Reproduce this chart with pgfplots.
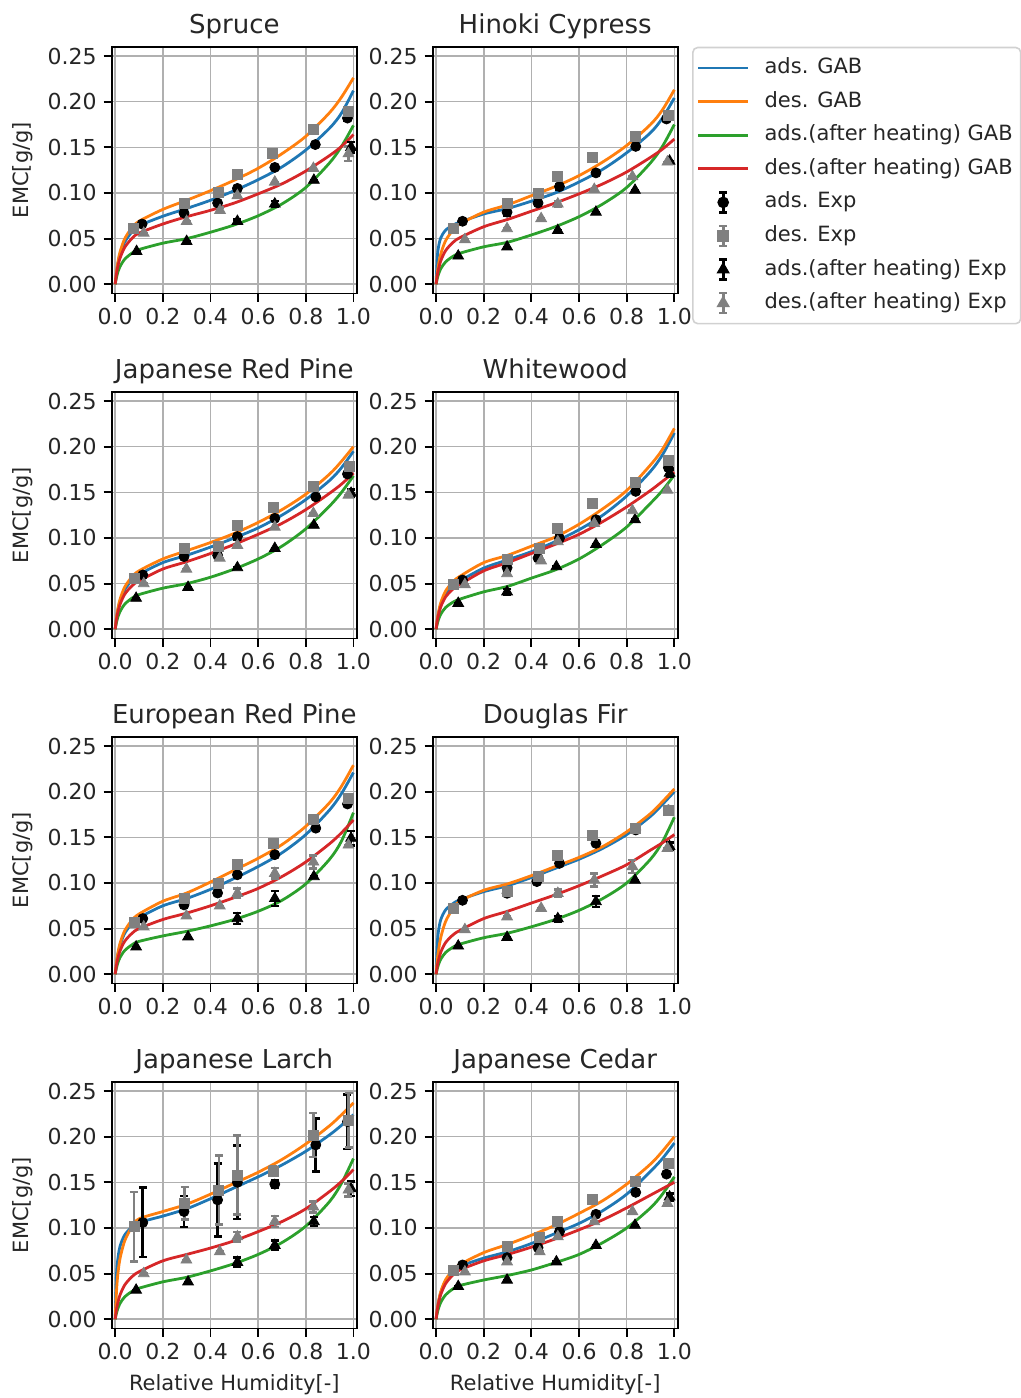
\documentclass[border=0pt]{standalone}
\usepackage{fontspec}
\setmainfont{DejaVu Sans}
\usepackage{pgfplots}
\usepackage{pgfplotstable}
\pgfplotsset{compat=1.18}
\definecolor{cblue}{RGB}{31,119,180}
\definecolor{corange}{RGB}{255,127,14}
\definecolor{cgreen}{RGB}{44,160,44}
\definecolor{cred}{RGB}{214,39,40}
\definecolor{mgray}{RGB}{128,128,128}
\definecolor{gridgray}{RGB}{176,176,176}

% ---------- GAB curves: x, ads (b), des (o), ads after heating (g), des after heating (r)
\pgfplotstableread{
x b o g r
0 0 0 0 0
0.005 0.0117 0.0126 0.0070 0.0102
0.01 0.0204 0.0219 0.0121 0.0178
0.02 0.0324 0.0349 0.0192 0.0283
0.04 0.0462 0.0498 0.0274 0.0404
0.07 0.0572 0.0617 0.0340 0.0501
0.1 0.064 0.069 0.038 0.056
0.2 0.0745 0.082 0.045 0.066
0.3 0.083 0.092 0.050 0.074
0.4 0.092 0.1025 0.057 0.081
0.5 0.1025 0.114 0.065 0.089
0.6 0.1145 0.127 0.075 0.099
0.7 0.1285 0.143 0.088 0.110
0.8 0.147 0.162 0.106 0.124
0.9 0.171 0.188 0.133 0.141
0.95 0.1875 0.205 0.151 0.151
1 0.212 0.226 0.174 0.164
}\GABspruce
\pgfplotstableread{
x b o g r
0 0 0 0 0
0.005 0.0288 0.0121 0.0062 0.0093
0.01 0.0405 0.0210 0.0108 0.0162
0.02 0.0510 0.0334 0.0172 0.0258
0.04 0.0592 0.0477 0.0245 0.0368
0.07 0.0647 0.0590 0.0304 0.0456
0.1 0.068 0.066 0.034 0.051
0.2 0.077 0.079 0.041 0.063
0.3 0.083 0.087 0.046 0.071
0.4 0.091 0.097 0.054 0.080
0.5 0.100 0.107 0.063 0.089
0.6 0.112 0.119 0.074 0.099
0.7 0.126 0.134 0.088 0.110
0.8 0.144 0.152 0.106 0.123
0.9 0.166 0.175 0.133 0.139
0.95 0.182 0.191 0.151 0.148
1 0.204 0.213 0.175 0.159
}\GABhinoki
\pgfplotstableread{
x b o g r
0 0 0 0 0
0.005 0.0110 0.0117 0.0070 0.0097
0.01 0.0191 0.0204 0.0121 0.0169
0.02 0.0304 0.0324 0.0192 0.0268
0.04 0.0433 0.0462 0.0274 0.0383
0.07 0.0536 0.0572 0.0340 0.0474
0.1 0.060 0.064 0.038 0.053
0.2 0.073 0.077 0.045 0.066
0.3 0.081 0.086 0.050 0.074
0.4 0.090 0.095 0.057 0.083
0.5 0.100 0.105 0.066 0.093
0.6 0.111 0.117 0.077 0.104
0.7 0.125 0.131 0.091 0.116
0.8 0.142 0.148 0.110 0.131
0.9 0.163 0.170 0.135 0.149
0.95 0.177 0.184 0.150 0.159
1 0.195 0.200 0.168 0.171
}\GABjrp
\pgfplotstableread{
x b o g r
0 0 0 0 0
0.005 0.0097 0.0106 0.0060 0.0090
0.01 0.0169 0.0184 0.0105 0.0156
0.02 0.0268 0.0293 0.0167 0.0248
0.04 0.0383 0.0419 0.0238 0.0354
0.07 0.0474 0.0519 0.0295 0.0438
0.1 0.053 0.058 0.033 0.049
0.2 0.067 0.073 0.041 0.064
0.3 0.076 0.081 0.047 0.073
0.4 0.085 0.091 0.056 0.083
0.5 0.096 0.101 0.065 0.093
0.6 0.109 0.115 0.077 0.104
0.7 0.125 0.132 0.093 0.118
0.8 0.146 0.152 0.112 0.134
0.9 0.173 0.180 0.138 0.152
0.95 0.191 0.197 0.152 0.162
1 0.215 0.220 0.169 0.172
}\GABwhite
\pgfplotstableread{
x b o g r
0 0 0 0 0
0.005 0.0113 0.0121 0.0066 0.0092
0.01 0.0197 0.0210 0.0114 0.0159
0.02 0.0314 0.0334 0.0182 0.0253
0.04 0.0448 0.0477 0.0260 0.0361
0.07 0.0554 0.0590 0.0322 0.0447
0.1 0.062 0.066 0.036 0.050
0.2 0.075 0.080 0.042 0.060
0.3 0.083 0.089 0.047 0.067
0.4 0.093 0.101 0.053 0.075
0.5 0.105 0.114 0.060 0.084
0.6 0.118 0.127 0.069 0.094
0.7 0.133 0.142 0.081 0.107
0.8 0.153 0.162 0.099 0.123
0.9 0.180 0.188 0.126 0.143
0.95 0.198 0.206 0.146 0.155
1 0.221 0.229 0.177 0.169
}\GABerp
\pgfplotstableread{
x b o g r
0 0 0 0 0
0.005 0.0330 0.0146 0.0060 0.0088
0.01 0.0470 0.0254 0.0105 0.0153
0.02 0.0600 0.0405 0.0167 0.0243
0.04 0.0705 0.0578 0.0238 0.0347
0.07 0.0772 0.0715 0.0295 0.0429
0.1 0.0815 0.080 0.033 0.048
0.2 0.0905 0.092 0.040 0.061
0.3 0.097 0.099 0.045 0.069
0.4 0.106 0.108 0.052 0.078
0.5 0.116 0.118 0.060 0.087
0.6 0.126 0.128 0.070 0.097
0.7 0.138 0.140 0.083 0.108
0.8 0.153 0.156 0.100 0.120
0.9 0.173 0.176 0.126 0.136
0.95 0.186 0.189 0.145 0.144
1 0.200 0.203 0.172 0.153
}\GABdouglas
\pgfplotstableread{
x b o g r
0 0 0 0 0
0.005 0.0448 0.0275 0.0062 0.0095
0.01 0.0631 0.0462 0.0108 0.0165
0.02 0.0795 0.0660 0.0172 0.0263
0.04 0.0923 0.0858 0.0245 0.0375
0.07 0.1008 0.1012 0.0304 0.0465
0.1 0.106 0.110 0.034 0.052
0.2 0.113 0.118 0.041 0.064
0.3 0.121 0.126 0.046 0.071
0.4 0.132 0.137 0.053 0.078
0.5 0.144 0.149 0.061 0.086
0.6 0.156 0.161 0.071 0.096
0.7 0.169 0.175 0.084 0.107
0.8 0.184 0.192 0.102 0.121
0.9 0.202 0.212 0.129 0.140
0.95 0.2125 0.224 0.149 0.151
1 0.224 0.237 0.176 0.164
}\GABlarch
\pgfplotstableread{
x b o g r
0 0 0 0 0
0.005 0.0106 0.0110 0.0068 0.0099
0.01 0.0184 0.0191 0.0118 0.0172
0.02 0.0293 0.0304 0.0187 0.0273
0.04 0.0419 0.0433 0.0267 0.0390
0.07 0.0519 0.0536 0.0331 0.0483
0.1 0.058 0.060 0.037 0.054
0.2 0.067 0.073 0.043 0.064
0.3 0.074 0.082 0.048 0.071
0.4 0.083 0.092 0.054 0.079
0.5 0.094 0.103 0.062 0.088
0.6 0.105 0.116 0.071 0.098
0.7 0.119 0.130 0.084 0.109
0.8 0.137 0.148 0.100 0.122
0.9 0.162 0.170 0.122 0.136
0.95 0.176 0.184 0.137 0.143
1 0.193 0.200 0.156 0.150
}\GABcedar

% ---------- Experiments: ads (a), des (d), ads after heating (h), des after heating (k); x y err
\pgfplotstableread{
xa ya ea xd yd ed xh yh eh xk yk ek
0.113 0.066 0 0.075 0.061 0 0.09 0.036 0 0.12 0.056 0
0.289 0.078 0 0.292 0.089 0 0.30 0.047 0 0.30 0.069 0
0.43 0.089 0 0.435 0.101 0 0.513 0.069 0.002 0.44 0.081 0.003
0.513 0.105 0 0.513 0.120 0 0.67 0.088 0.003 0.513 0.097 0
0.67 0.128 0 0.66 0.143 0 0.834 0.114 0 0.67 0.112 0
0.84 0.153 0 0.832 0.170 0 0.99 0.150 0.006 0.832 0.127 0
0.975 0.182 0.003 0.98 0.189 0 nan nan nan 0.979 0.143 0.008
}\EXPspruce
\pgfplotstableread{
xa ya ea xd yd ed xh yh eh xk yk ek
0.111 0.069 0 0.072 0.061 0 0.093 0.031 0 0.121 0.049 0
0.298 0.079 0.004 0.298 0.089 0.004 0.298 0.041 0 0.298 0.061 0
0.428 0.089 0.003 0.428 0.099 0 0.511 0.059 0 0.441 0.072 0
0.518 0.107 0.003 0.511 0.118 0 0.671 0.079 0 0.511 0.088 0.003
0.671 0.122 0 0.657 0.139 0 0.835 0.103 0 0.664 0.104 0
0.838 0.151 0 0.836 0.162 0 0.98 0.135 0 0.824 0.118 0
0.967 0.181 0 0.975 0.185 0 nan nan nan 0.971 0.134 0
}\EXPhinoki
\pgfplotstableread{
xa ya ea xd yd ed xh yh eh xk yk ek
0.116 0.0595 0 0.079 0.056 0 0.088 0.034 0 0.12 0.050 0
0.289 0.0796 0 0.292 0.0887 0 0.306 0.046 0 0.299 0.066 0
0.43 0.081 0.003 0.435 0.091 0 0.513 0.0675 0 0.439 0.078 0
0.513 0.1015 0.003 0.513 0.114 0 0.67 0.0887 0 0.513 0.092 0
0.67 0.1215 0 0.663 0.134 0 0.834 0.114 0 0.67 0.112 0
0.842 0.145 0 0.832 0.156 0 0.99 0.149 0.004 0.832 0.127 0
0.975 0.170 0 0.982 0.178 0 nan nan nan 0.979 0.147 0
}\EXPjrp
\pgfplotstableread{
xa ya ea xd yd ed xh yh eh xk yk ek
0.111 0.054 0 0.072 0.049 0 0.093 0.0285 0 0.121 0.049 0
0.298 0.0675 0.003 0.298 0.077 0 0.298 0.041 0.003 0.298 0.061 0
0.428 0.078 0 0.435 0.089 0 0.505 0.0686 0 0.441 0.075 0
0.518 0.0996 0.003 0.511 0.111 0 0.671 0.093 0 0.511 0.096 0
0.671 0.120 0.003 0.657 0.138 0 0.835 0.120 0 0.664 0.116 0
0.838 0.151 0 0.838 0.161 0 0.98 0.171 0.004 0.824 0.130 0
0.975 0.177 0 0.975 0.185 0 nan nan nan 0.971 0.1525 0
}\EXPwhite
\pgfplotstableread{
xa ya ea xd yd ed xh yh eh xk yk ek
0.116 0.061 0 0.079 0.0566 0 0.088 0.030 0 0.12 0.052 0
0.289 0.076 0 0.292 0.083 0 0.306 0.041 0 0.299 0.064 0
0.43 0.089 0 0.435 0.099 0 0.513 0.061 0.006 0.439 0.075 0
0.513 0.109 0 0.513 0.120 0 0.67 0.083 0.008 0.513 0.0887 0.005
0.67 0.131 0 0.663 0.143 0 0.834 0.107 0 0.67 0.1106 0.006
0.842 0.160 0 0.832 0.170 0 0.99 0.149 0.008 0.832 0.123 0.007
0.975 0.1865 0 0.98 0.193 0 nan nan nan 0.979 0.1416 0
}\EXPerp
\pgfplotstableread{
xa ya ea xd yd ed xh yh eh xk yk ek
0.111 0.081 0 0.072 0.072 0 0.093 0.031 0 0.121 0.049 0
0.298 0.0887 0 0.298 0.0905 0 0.298 0.0405 0 0.298 0.063 0
0.423 0.1015 0 0.428 0.107 0 0.511 0.061 0.003 0.441 0.0723 0
0.518 0.1215 0 0.511 0.1307 0 0.671 0.0796 0.006 0.511 0.0887 0.004
0.671 0.1434 0 0.657 0.1525 0 0.835 0.103 0 0.664 0.1033 0.007
0.838 0.158 0 0.836 0.160 0 0.98 0.140 0.004 0.824 0.118 0.007
0.975 0.180 0 0.975 0.180 0 nan nan nan 0.971 0.138 0
}\EXPdouglas
\pgfplotstableread{
xa ya ea xd yd ed xh yh eh xk yk ek
0.116 0.106 0.038 0.079 0.1015 0.038 0.088 0.032 0 0.12 0.050 0
0.289 0.118 0.017 0.292 0.127 0.018 0.306 0.041 0 0.299 0.065 0
0.43 0.1307 0.04 0.435 0.1416 0.038 0.513 0.0624 0.005 0.439 0.074 0
0.513 0.150 0.04 0.513 0.158 0.043 0.67 0.081 0.005 0.513 0.0905 0.005
0.67 0.148 0.004 0.663 0.162 0.005 0.834 0.107 0.005 0.67 0.107 0.006
0.842 0.191 0.029 0.832 0.2018 0.024 0.99 0.143 0.008 0.832 0.123 0.006
0.975 0.2165 0.03 0.98 0.218 0.03 nan nan nan 0.979 0.1416 0.007
}\EXPlarch
\pgfplotstableread{
xa ya ea xd yd ed xh yh eh xk yk ek
0.111 0.0595 0.003 0.072 0.054 0 0.093 0.036 0 0.121 0.052 0
0.298 0.0675 0 0.298 0.0796 0 0.298 0.043 0 0.298 0.063 0
0.428 0.0785 0 0.435 0.0894 0 0.505 0.063 0 0.435 0.074 0
0.518 0.096 0.003 0.511 0.1077 0 0.671 0.081 0 0.511 0.0905 0
0.671 0.115 0 0.654 0.1314 0 0.835 0.103 0 0.664 0.107 0
0.838 0.139 0 0.838 0.1507 0 0.98 0.134 0.004 0.824 0.118 0
0.967 0.159 0 0.975 0.171 0 nan nan nan 0.971 0.127 0
}\EXPcedar

\pgfplotsset{
  panel/.style={
    scale only axis, width=122.6pt, height=123.45pt, anchor=south west,
    xmin=-0.0145, xmax=1.0145, ymin=-0.0102, ymax=0.2602,
    xtick={0,0.2,0.4,0.6,0.8,1}, ytick={0,0.05,0.1,0.15,0.2,0.25},
    xtick pos=left, ytick pos=left,
    tick align=outside, major tick length=4pt,
    every tick/.style={black, line width=0.9pt},
    axis line style={line width=0.9pt},
    grid=major, major grid style={gridgray, line width=0.8pt},
    scaled x ticks=false, scaled y ticks=false,
    xticklabel style={/pgf/number format/.cd, fixed, fixed zerofill, precision=1, assume math mode=true},
    yticklabel style={/pgf/number format/.cd, fixed, fixed zerofill, precision=2, assume math mode=true},
    tick label style={font=\fontsize{11}{12.5}\selectfont, text=black!85},
    title style={font=\fontsize{13}{15}\selectfont, text=black!85, at={(axis description cs:0.5,1)}, anchor=base, yshift=0.6pt},
    label style={font=\fontsize{10.5}{12}\selectfont, text=black!85},
    ylabel style={at={(axis description cs:-0.3638,0.5)}, anchor=center},
    xlabel style={at={(axis description cs:0.5,0)}, anchor=north, yshift=-19.6pt},
    legend cell align=left,
  },
  gabline/.style={line width=1.4pt, smooth, mark=none,
    legend image code/.code={\draw[##1] (0pt,0pt) -- (25pt,0pt);}},
  expstyle/.style={only marks,
    error bars/y dir=both, error bars/y explicit,
    error bars/error bar style={line width=1.3pt},
    error bars/error mark options={rotate=90, mark size=2pt, line width=1.3pt},
    legend image code/.code={%
      \path (0pt,0pt) (25pt,0pt);
      \draw[##1, line width=1.3pt] (12.5pt,-5pt) -- (12.5pt,5pt) (10.5pt,-5pt) -- (14.5pt,-5pt) (10.5pt,5pt) -- (14.5pt,5pt);
      \draw[##1] plot coordinates {(12.5pt,0pt)};}},
}

\newcommand{\panel}[6]{%
\begin{axis}[panel, at={(#1,#2)}, title={#3}, #6]
\addplot[cblue, gabline] table[x=x,y=b]{#4};
\addplot[corange, gabline] table[x=x,y=o]{#4};
\addplot[cgreen, gabline] table[x=x,y=g]{#4};
\addplot[cred, gabline] table[x=x,y=r]{#4};
\addplot[black, expstyle, mark=*, mark size=2.5pt] table[x=xa,y=ya,y error=ea]{#5};
\addplot[mgray, expstyle, mark=square*, mark size=2.5pt] table[x=xd,y=yd,y error=ed]{#5};
\addplot[black, expstyle, mark=triangle*, mark size=3.1pt] table[x=xh,y=yh,y error=eh]{#5};
\addplot[mgray, expstyle, mark=triangle*, mark size=3.1pt] table[x=xk,y=yk,y error=ek]{#5};
\end{axis}}

\begin{document}
\begin{tikzpicture}
\path[use as bounding box] (0,0) rectangle (510.5pt,699pt);
\panel{55.85pt}{552.2pt}{Spruce}{\GABspruce}{\EXPspruce}{ylabel={EMC[g/g]}}
\panel{216.3pt}{552.2pt}{Hinoki Cypress}{\GABhinoki}{\EXPhinoki}{
  legend entries={ads. GAB, des. GAB, ads.(after heating) GAB, des.(after heating) GAB, ads. Exp, des. Exp, ads.(after heating) Exp, des.(after heating) Exp},
  legend style={at={(1,1)}, anchor=north west, xshift=7.1pt, draw=black!18, line width=0.8pt, rounded corners=2.5pt,
    font=\fontsize{10.5}{12.5}\selectfont, text=black!85, inner xsep=2pt, inner ysep=3pt, row sep=2.3pt, column sep=5.5pt,
    nodes={inner sep=2pt, text height=8pt, text depth=2.5pt}}}
\panel{55.85pt}{379.7pt}{Japanese Red Pine}{\GABjrp}{\EXPjrp}{ylabel={EMC[g/g]}}
\panel{216.3pt}{379.7pt}{Whitewood}{\GABwhite}{\EXPwhite}{}
\panel{55.85pt}{207.2pt}{European Red Pine}{\GABerp}{\EXPerp}{ylabel={EMC[g/g]}}
\panel{216.3pt}{207.2pt}{Douglas Fir}{\GABdouglas}{\EXPdouglas}{}
\panel{55.85pt}{34.7pt}{Japanese Larch}{\GABlarch}{\EXPlarch}{ylabel={EMC[g/g]}, xlabel={Relative Humidity[-]}}
\panel{216.3pt}{34.7pt}{Japanese Cedar}{\GABcedar}{\EXPcedar}{xlabel={Relative Humidity[-]}}
\end{tikzpicture}
\end{document}
